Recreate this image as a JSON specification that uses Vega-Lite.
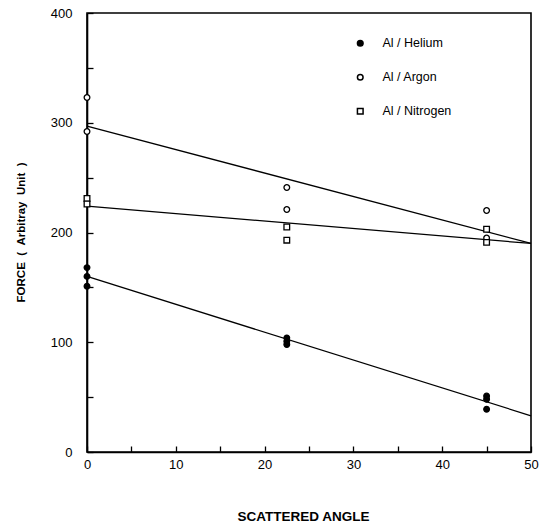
{
  "$schema": "https://vega.github.io/schema/vega-lite/v6.json",
  "width": 444,
  "height": 439,
  "autosize": "none",
  "padding": {"left": 87, "top": 13, "right": 21, "bottom": 75},
  "background": "white",
  "config": {
    "view": {"stroke": "black", "strokeWidth": 1.6},
    "font": "Liberation Sans",
    "axis": {
      "grid": false,
      "ticks": true,
      "domainColor": "black",
      "domainWidth": 1.6,
      "tickColor": "black",
      "tickSize": -6,
      "tickWidth": 1.3,
      "labelFlush": false,
      "labelColor": "black",
      "labelFontSize": 13,
      "titleColor": "black",
      "titleFontSize": 11.5,
      "titleFontWeight": "bold"
    }
  },
  "datasets": {
    "fits": [
      {"fit": "Argon", "angle": 0, "force": 297},
      {"fit": "Argon", "angle": 50, "force": 190},
      {"fit": "Nitrogen", "angle": 0, "force": 224},
      {"fit": "Nitrogen", "angle": 50, "force": 190},
      {"fit": "Helium", "angle": 0, "force": 160},
      {"fit": "Helium", "angle": 50, "force": 33}
    ],
    "points": [
      {"series": "Al / Helium", "angle": 0, "force": 168},
      {"series": "Al / Helium", "angle": 0, "force": 160},
      {"series": "Al / Helium", "angle": 0, "force": 151},
      {"series": "Al / Helium", "angle": 22.5, "force": 104},
      {"series": "Al / Helium", "angle": 22.5, "force": 101},
      {"series": "Al / Helium", "angle": 22.5, "force": 98},
      {"series": "Al / Helium", "angle": 45, "force": 51},
      {"series": "Al / Helium", "angle": 45, "force": 48},
      {"series": "Al / Helium", "angle": 45, "force": 39},
      {"series": "Al / Argon", "angle": 0, "force": 323},
      {"series": "Al / Argon", "angle": 0, "force": 292},
      {"series": "Al / Argon", "angle": 22.5, "force": 241},
      {"series": "Al / Argon", "angle": 22.5, "force": 221},
      {"series": "Al / Argon", "angle": 45, "force": 220},
      {"series": "Al / Argon", "angle": 45, "force": 195},
      {"series": "Al / Nitrogen", "angle": 0, "force": 231},
      {"series": "Al / Nitrogen", "angle": 0, "force": 226},
      {"series": "Al / Nitrogen", "angle": 22.5, "force": 205},
      {"series": "Al / Nitrogen", "angle": 22.5, "force": 193},
      {"series": "Al / Nitrogen", "angle": 45, "force": 203},
      {"series": "Al / Nitrogen", "angle": 45, "force": 191}
    ]
  },
  "layer": [
    {
      "data": {"name": "fits"},
      "mark": {"type": "line", "color": "black", "strokeWidth": 1.3},
      "encoding": {
        "x": {"field": "angle", "type": "quantitative"},
        "y": {"field": "force", "type": "quantitative"},
        "detail": {"field": "fit"}
      }
    },
    {
      "data": {"name": "points"},
      "mark": {"type": "point", "stroke": "black", "strokeWidth": 1.3, "opacity": 1, "size": 32},
      "encoding": {
        "x": {
          "field": "angle",
          "type": "quantitative",
          "scale": {"domain": [0, 50], "nice": false},
          "axis": {
            "values": [0, 5, 10, 15, 20, 25, 30, 35, 40, 45, 50],
            "labelExpr": "datum.value % 10 === 0 ? datum.label : ''",
            "labelPadding": 12,
            "title": "SCATTERED ANGLE",
            "titleFontSize": 13.5,
            "titleX": 216,
            "titleY": 64,
            "titleBaseline": "middle"
          }
        },
        "y": {
          "field": "force",
          "type": "quantitative",
          "scale": {"domain": [0, 400], "nice": false},
          "axis": {
            "values": [0, 50, 100, 150, 200, 250, 300, 350, 400],
            "labelExpr": "datum.value % 100 === 0 ? datum.label : ''",
            "labelPadding": 21,
            "title": "FORCE\u00a0\u00a0(\u00a0\u00a0Arbitray\u00a0\u00a0Unit\u00a0\u00a0)",
            "titleX": -66,
            "titleY": 219,
            "titleBaseline": "middle"
          }
        },
        "shape": {
          "field": "series",
          "type": "nominal",
          "title": null,
          "scale": {"domain": ["Al / Helium", "Al / Argon", "Al / Nitrogen"], "range": ["circle", "circle", "square"]},
          "legend": {
            "orient": "none",
            "legendX": 267,
            "legendY": 24,
            "rowPadding": 21,
            "labelFontSize": 12.5,
            "labelColor": "black",
            "labelOffset": 16,
            "symbolSize": 32,
            "encode": {"symbols": {"update": {"stroke": {"value": "black"}, "strokeWidth": {"value": 1.3}}}}
          }
        },
        "fill": {
          "field": "series",
          "type": "nominal",
          "title": null,
          "scale": {"domain": ["Al / Helium", "Al / Argon", "Al / Nitrogen"], "range": ["black", "white", "white"]}
        }
      }
    }
  ]
}
